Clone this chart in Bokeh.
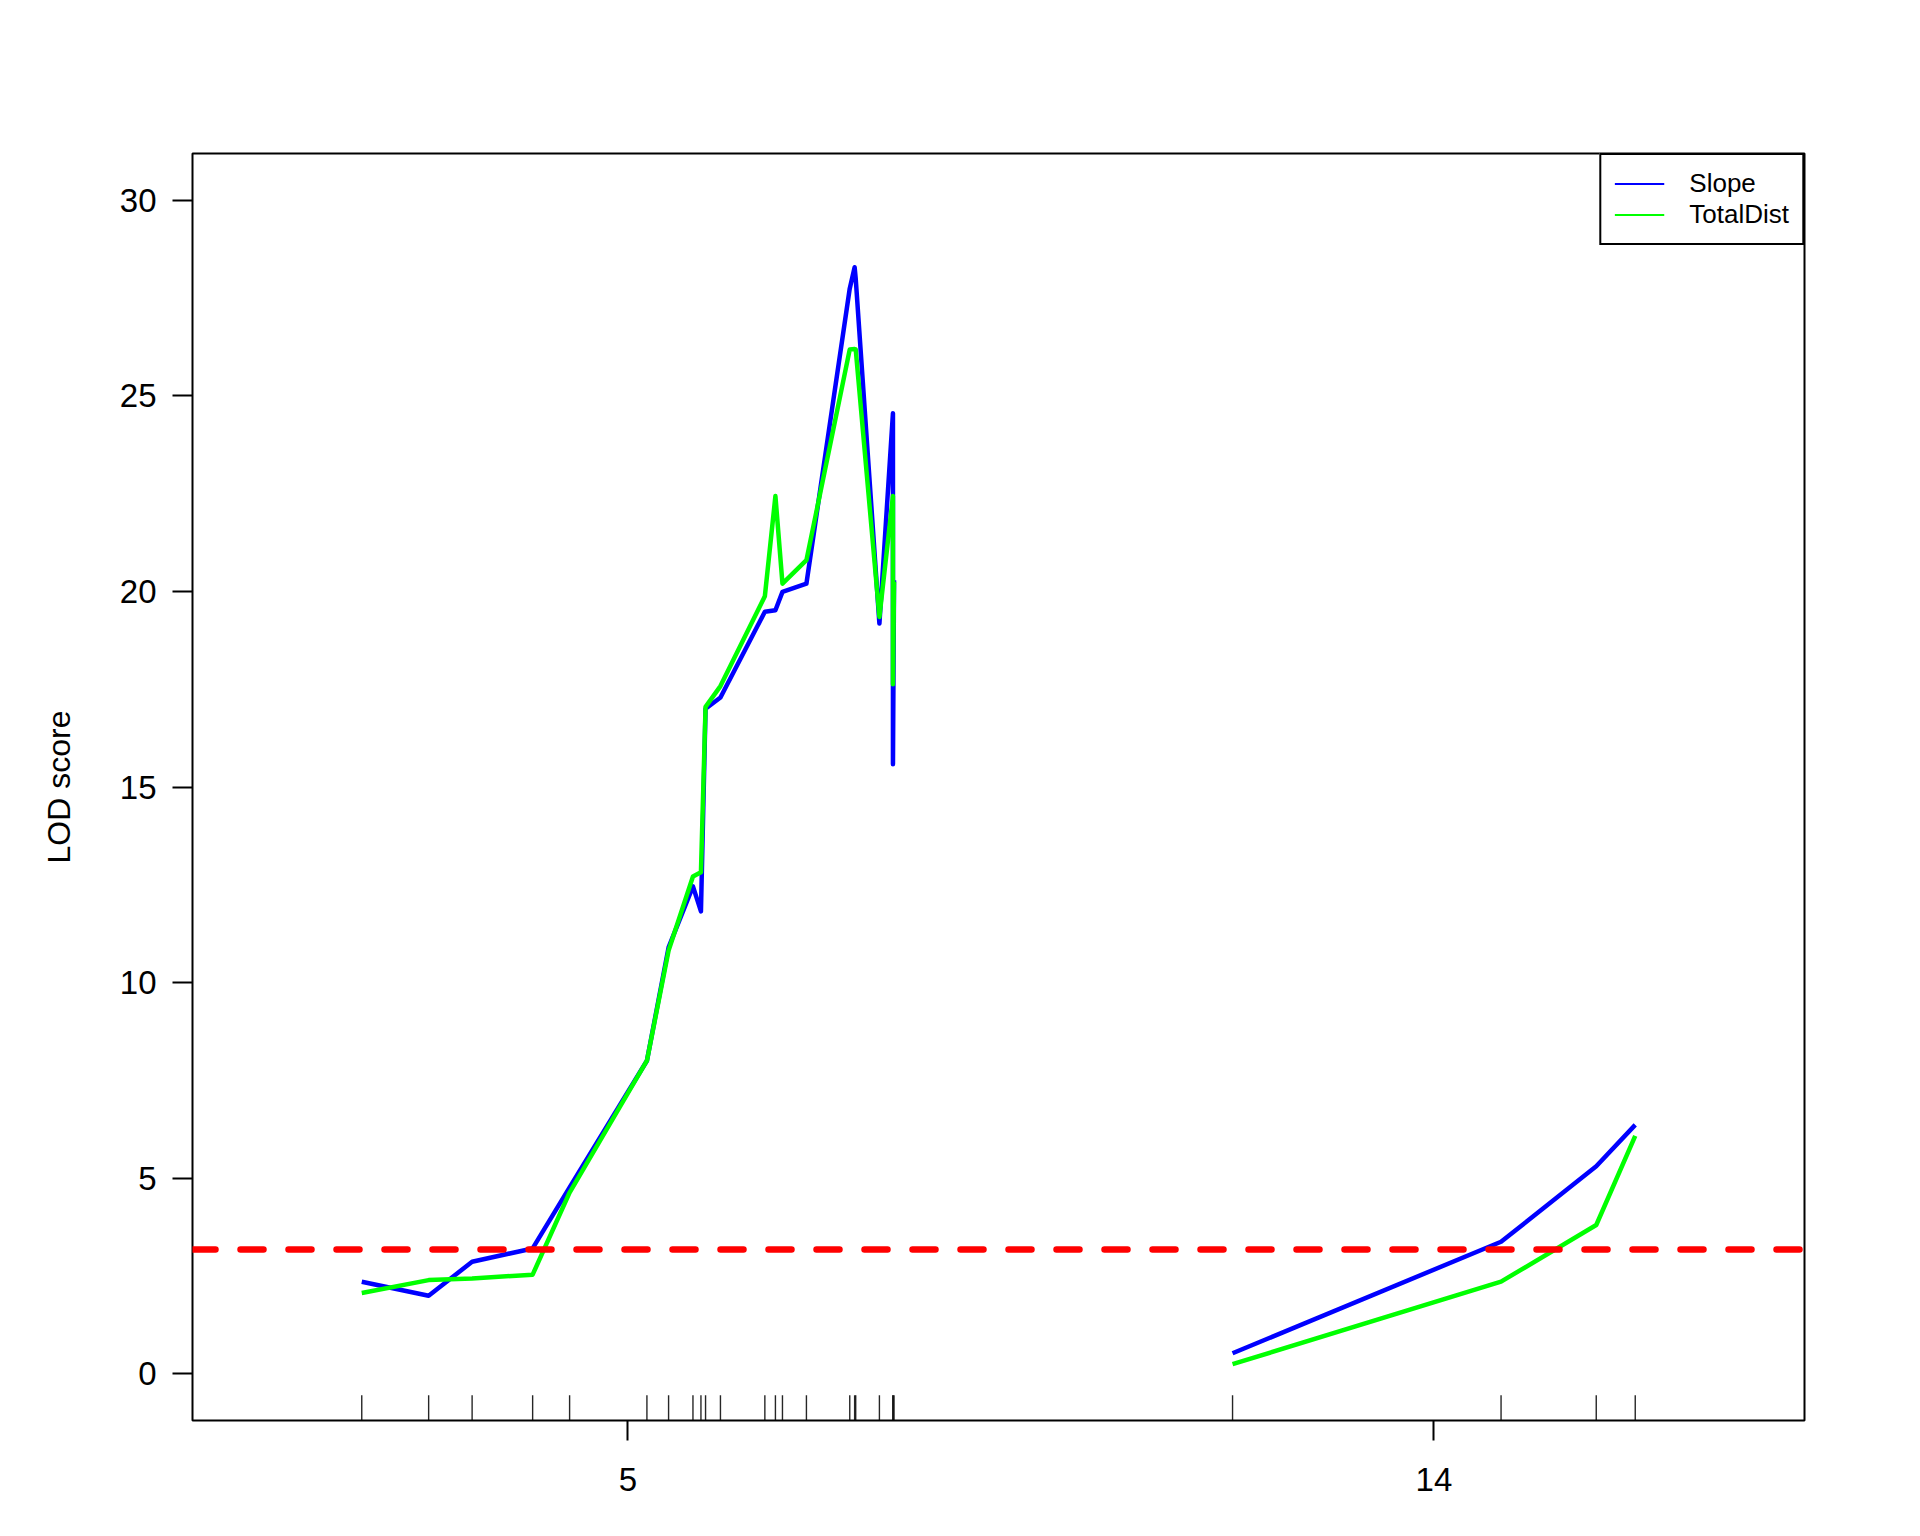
from bokeh.plotting import figure
from bokeh.models import Range1d, FixedTicker, Legend, LegendItem
from bokeh.embed import file_html
from bokeh.resources import INLINE

# ---- data ----
chr_names = ["5", "14"]

chr5_pos = [0.0, 4.94, 8.15, 12.62, 15.35, 21.06, 22.66, 24.46, 25.05, 25.39, 26.49,
            29.77, 30.55, 31.07, 32.84, 36.04, 36.40, 36.48, 38.23, 39.23, 39.23, 39.31]
chr5_slope = [2.35, 1.99, 2.86, 3.20, 4.76, 8.00, 10.90, 12.46, 11.82, 17.00, 17.29,
              19.48, 19.52, 19.99, 20.20, 27.75, 28.29, 28.00, 19.18, 24.56, 15.58, 20.29]
chr5_totaldist = [2.06, 2.39, 2.43, 2.53, 4.63, 8.00, 10.82, 12.71, 12.82, 17.05, 17.58,
                  19.88, 22.44, 20.20, 20.80, 26.19, 26.20, 26.19, 19.35, 22.44, 17.63, 20.25]

chr14_pos = [0.0, 19.83, 26.86, 29.74]
chr14_slope = [0.52, 3.37, 5.30, 6.36]
chr14_totaldist = [0.24, 2.35, 3.80, 6.08]

y_ticks = [0, 5, 10, 15, 20, 25, 30]
y_lim = [0, 30]
threshold = 3.17
series_names = ["Slope", "TotalDist"]
series_colors = ["#0000FF", "#00FF00"]

# ---- layout of chromosomes along x (R/qtl style) ----
gap = 25.0
positions = [chr5_pos, chr14_pos]
slopes = [chr5_slope, chr14_slope]
totals = [chr5_totaldist, chr14_totaldist]

offsets = []
cur = 0.0
for pos in positions:
    offsets.append(cur - pos[0])
    cur = cur + (pos[-1] - pos[0]) + gap
x_lo = -gap / 2
x_hi = offsets[-1] + positions[-1][-1] + gap / 2
pad = 0.04 * (y_lim[1] - y_lim[0])
y_lo, y_hi = y_lim[0] - pad, y_lim[1] + pad

FONT = "Liberation Sans"
NAN = float("nan")

p = figure(width=1904, height=1520, output_backend="svg", toolbar_location=None,
           x_range=Range1d(x_lo, x_hi), y_range=Range1d(y_lo, y_hi),
           min_border_left=192, min_border_right=100, min_border_top=153, min_border_bottom=100)
p.background_fill_color = "white"
p.border_fill_color = "white"
p.outline_line_color = "black"
p.outline_line_width = 2
p.outline_line_alpha = 1.0
p.xgrid.visible = False
p.ygrid.visible = False

# curves
for k in range(len(positions)):
    xs = [offsets[k] + v for v in positions[k]]
    p.line(xs, slopes[k], line_color=series_colors[0], line_width=4.5, line_join="round")
    p.line(xs, totals[k], line_color=series_colors[1], line_width=4.5, line_join="round")

# rug of marker positions
rug_x = []
for k in range(len(positions)):
    rug_x += [offsets[k] + v for v in positions[k]]
rug_top = y_lo + 0.02 * (y_hi - y_lo)
p.segment(x0=rug_x, y0=[y_lo] * len(rug_x), x1=rug_x, y1=[rug_top] * len(rug_x),
          line_color="black", line_width=1.4, line_alpha=0.85)

# threshold line
p.line([x_lo, x_hi], [threshold, threshold], line_color="#FF0000", line_width=6.5,
       line_dash="23 25", line_cap="round")

# axes
mids = [offsets[k] + (positions[k][0] + positions[k][-1]) / 2 for k in range(len(positions))]
p.xaxis.ticker = FixedTicker(ticks=mids)
p.xaxis.major_label_overrides = {m: n for m, n in zip(mids, chr_names)}
p.yaxis.ticker = FixedTicker(ticks=y_ticks)
for ax in (p.xaxis[0], p.yaxis[0]):
    ax.axis_line_color = None
    ax.major_tick_in = 0
    ax.major_tick_out = 20
    ax.major_tick_line_width = 2
    ax.major_tick_line_color = "black"
    ax.minor_tick_line_color = None
    ax.major_label_text_font = FONT
    ax.major_label_text_font_size = "33px"
    ax.major_label_text_color = "black"
p.xaxis.major_label_standoff = 27
p.yaxis.major_label_standoff = 16
p.yaxis.axis_label = "LOD score"
p.yaxis.axis_label_text_font = FONT
p.yaxis.axis_label_text_font_size = "32px"
p.yaxis.axis_label_text_font_style = "normal"
p.yaxis.axis_label_text_color = "black"
p.yaxis.axis_label_standoff = 40

# legend
leg_r = [p.line([NAN], [NAN], line_color=c, line_width=2) for c in series_colors]
legend = Legend(items=[LegendItem(label=n, renderers=[r]) for n, r in zip(series_names, leg_r)],
                location="top_right", margin=0, padding=13, spacing=0,
                glyph_width=50, glyph_height=25, label_height=25, label_standoff=25,
                label_text_font=FONT, label_text_font_size="26px", label_text_color="black",
                border_line_color="black", border_line_width=2, border_line_alpha=1.0,
                background_fill_color="white", background_fill_alpha=1.0)
p.add_layout(legend)

open("out.html", "w").write(file_html(p, INLINE))
